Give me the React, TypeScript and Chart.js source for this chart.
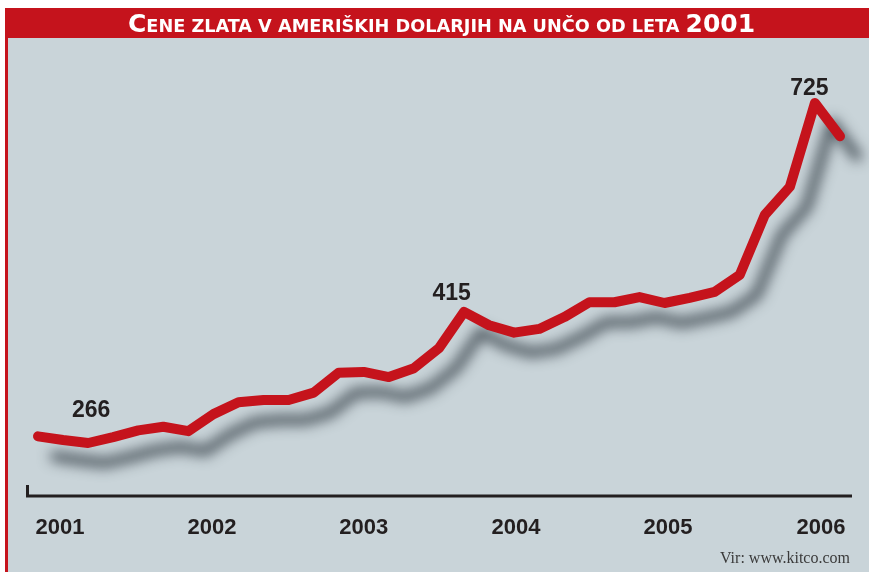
import React, { useEffect, useRef } from "react";
import { Chart, registerables } from "chart.js";

Chart.register(...registerables);

// Gold price (USD / oz), one point roughly every two months, 2001 – 2006
const goldPrice: number[] = [
  275, 270, 266, 274, 283, 288, 282, 305, 321, 324, 324, 334, 361, 362, 355, 367, 394,
  443, 425, 415, 420, 436, 456, 456, 463, 455, 462, 470, 493, 574, 612, 725, 680,
];

// Year tick labels and where they sit along the point index axis
const yearLabels: string[] = ["2001", "2002", "2003", "2004", "2005", "2006"];
const yearTickIndex: number[] = [0.88, 6.94, 13.0, 19.07, 25.14, 31.24];

// Value call-outs
const calloutIndex: number[] = [2, 17, 31];
const calloutText: string[] = ["266", "415", "725"];
const calloutDx: number[] = [3, -12.5, -5.5];
const calloutDy: number[] = [-26, -12, -8];

const titleText = "Cene zlata v ameriških dolarjih na unčo od leta 2001";
const sourceText = "Vir: www.kitco.com";

const RED = "#c5131c";
const BG = "#c9d4d9";
const INK = "#231f20";

const W = 869;
const H = 572;

const framePlugin = {
  id: "frame",
  beforeDraw(chart: any) {
    const ctx = chart.ctx as CanvasRenderingContext2D;
    ctx.save();
    ctx.fillStyle = "#ffffff";
    ctx.fillRect(0, 0, W, H);
    ctx.fillStyle = BG;
    ctx.fillRect(8, 38, W - 8, H - 38);
    ctx.fillStyle = RED;
    ctx.fillRect(5, 8, 3, H - 8);
    ctx.fillRect(5, 8, W - 5, 30);

    // title with small caps
    const bigFont = 'bold 24px "Liberation Sans Narrow", "DejaVu Sans Condensed", "Liberation Sans", Arial, sans-serif';
    const smallFont = 'bold 17px "Liberation Sans Narrow", "DejaVu Sans Condensed", "Liberation Sans", Arial, sans-serif';
    const upper = titleText.toUpperCase();
    const segs: { t: string; big: boolean }[] = [];
    for (let i = 0; i < titleText.length; i++) {
      const ch = titleText[i];
      const isBig = (ch !== ch.toLowerCase()) || /[0-9]/.test(ch);
      const last = segs[segs.length - 1];
      if (last && last.big === isBig) last.t += upper[i];
      else segs.push({ t: upper[i], big: isBig });
    }
    let total = 0;
    for (const s of segs) {
      ctx.font = s.big ? bigFont : smallFont;
      total += ctx.measureText(s.t).width;
    }
    const targetW = 627;
    const sx = targetW / total;
    ctx.translate(128, 32);
    ctx.scale(sx, 1);
    ctx.fillStyle = "#ffffff";
    ctx.textBaseline = "alphabetic";
    ctx.textAlign = "left";
    let x = 0;
    for (const s of segs) {
      ctx.font = s.big ? bigFont : smallFont;
      ctx.fillText(s.t, x, 0);
      x += ctx.measureText(s.t).width;
    }
    ctx.restore();
  },
  beforeDatasetsDraw(chart: any) {
    const ctx = chart.ctx as CanvasRenderingContext2D;
    ctx.save();
    ctx.shadowColor = "rgba(62, 72, 80, 0.9)";
    ctx.shadowBlur = 13;
    ctx.shadowOffsetX = 17;
    ctx.shadowOffsetY = 20;
  },
  afterDatasetsDraw(chart: any) {
    chart.ctx.restore();
  },
  afterDraw(chart: any) {
    const ctx = chart.ctx as CanvasRenderingContext2D;
    const xs = chart.scales.x;
    const ys = chart.scales.y;
    const area = chart.chartArea;
    ctx.save();
    // axis line with left tick
    const axisY = area.bottom + 4;
    ctx.strokeStyle = INK;
    ctx.lineWidth = 3;
    ctx.lineCap = "butt";
    ctx.beginPath();
    ctx.moveTo(27.5, axisY - 11);
    ctx.lineTo(27.5, axisY + 1.5);
    ctx.moveTo(26, axisY);
    ctx.lineTo(852, axisY);
    ctx.stroke();

    // year labels
    ctx.fillStyle = INK;
    ctx.font = 'bold 22px "Liberation Sans", Arial, sans-serif';
    ctx.textAlign = "center";
    ctx.textBaseline = "alphabetic";
    yearLabels.forEach((lab, i) => {
      ctx.fillText(lab, xs.getPixelForValue(yearTickIndex[i]), axisY + 38);
    });

    // call-outs
    ctx.font = 'bold 23px "Liberation Sans", Arial, sans-serif';
    calloutIndex.forEach((idx, i) => {
      const px = xs.getPixelForValue(idx);
      const py = ys.getPixelForValue(goldPrice[idx]);
      ctx.fillText(calloutText[i], px + calloutDx[i], py + calloutDy[i]);
    });

    // source
    ctx.fillStyle = "#3a3a3a";
    ctx.font = '16px "Liberation Serif", "Times New Roman", serif';
    ctx.textAlign = "right";
    ctx.fillText(sourceText, 850, 563);
    ctx.restore();
  },
};

export default function App() {
  const ref = useRef<HTMLCanvasElement | null>(null);
  useEffect(() => {
    if (!ref.current) return;
    const chart = new Chart(ref.current, {
      type: "line",
      data: {
        datasets: [
          {
            data: goldPrice.map((v, i) => ({ x: i, y: v })),
            borderColor: RED,
            borderWidth: 10,
            borderCapStyle: "round",
            borderJoinStyle: "round",
            pointRadius: 0,
            tension: 0,
            fill: false,
            clip: false,
          } as any,
        ],
      },
      options: {
        responsive: false,
        animation: false,
        devicePixelRatio: 1,
        layout: { padding: { left: 38, right: W - 840, top: 47.44, bottom: H - 491.89 } },
        plugins: { legend: { display: false }, tooltip: { enabled: false } },
        scales: {
          x: { type: "linear", min: 0, max: goldPrice.length - 1, display: false },
          y: { type: "linear", min: 200, max: 800, display: false },
        },
      },
      plugins: [framePlugin],
    });
    return () => chart.destroy();
  }, []);
  return (
    <canvas
      ref={ref}
      width={W}
      height={H}
      style={{ position: "fixed", left: 0, top: 0, width: W, height: H }}
    />
  );
}
